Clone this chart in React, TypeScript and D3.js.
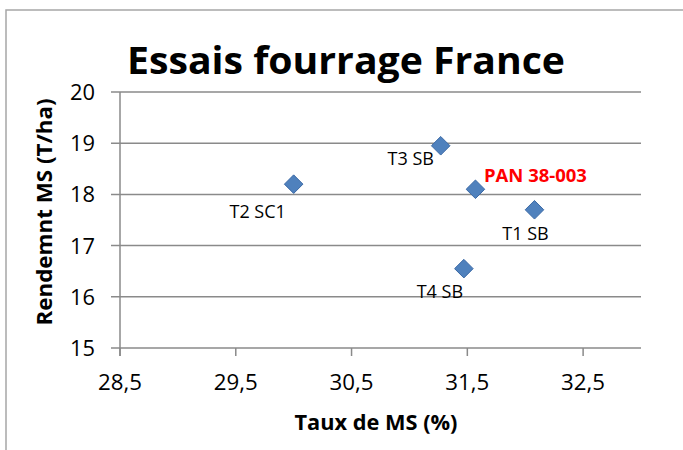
import React from "react";
import * as d3 from "d3";

const names = ["T2 SC1", "T3 SB", "PAN 38-003", "T1 SB", "T4 SB"];
const tauxMS = [30.0, 31.27, 31.57, 32.08, 31.47];
const rendement = [18.2, 18.95, 18.1, 17.7, 16.55];
const xTicks = [28.5, 29.5, 30.5, 31.5, 32.5];
const yTicks = [15, 16, 17, 18, 19, 20];
const highlight = ["PAN 38-003"];

// label placement relative to marker (layout, px)
const labelOffsets: [number, number][] = [
  [-36, 34],
  [-30, 19],
  [60, -7],
  [-9, 30],
  [-24, 29],
];

const W = 683;
const H = 450;
const font = "'Open Sans', sans-serif";

export default function App() {
  const x = d3.scaleLinear().domain([28.5, 33]).range([120, 641]);
  const y = d3.scaleLinear().domain([15, 20]).range([348, 92]);
  const grid = "#8a8a8a";
  const fmt = (v: number) => d3.format(".1f")(v).replace(".", ",");
  const diamond = d3.symbol().type(d3.symbolDiamond2).size(220);
  return (
    <svg
      width={W}
      height={H}
      style={{ position: "absolute", left: 0, top: 0, background: "#fff" }}
    >
      <rect x={6} y={10} width={W} height={H} fill="#fff" stroke="#a6a6a6" strokeWidth={1.5} />
      <text
        x={346}
        y={74}
        textAnchor="middle"
        fontFamily={font}
        fontWeight="bold"
        fontSize={38}
        textLength={438}
        lengthAdjust="spacingAndGlyphs"
      >
        Essais fourrage France
      </text>
      {yTicks.map((t) => (
        <g key={t}>
          <line x1={111} x2={641} y1={y(t)} y2={y(t)} stroke={grid} strokeWidth={1.5} />
          <text
            x={95}
            y={y(t)}
            dy="0.36em"
            textAnchor="end"
            fontFamily={font}
            fontSize={22}
            textLength={25}
            lengthAdjust="spacingAndGlyphs"
          >
            {t}
          </text>
        </g>
      ))}
      <line x1={x(28.5)} x2={x(28.5)} y1={92} y2={356} stroke={grid} strokeWidth={1.5} />
      {xTicks.map((t) => (
        <g key={t}>
          <line x1={x(t)} x2={x(t)} y1={348} y2={356} stroke={grid} strokeWidth={1.5} />
          <text
            x={x(t)}
            y={390}
            textAnchor="middle"
            fontFamily={font}
            fontSize={22}
            textLength={44}
            lengthAdjust="spacingAndGlyphs"
          >
            {fmt(t)}
          </text>
        </g>
      ))}
      <text
        x={376}
        y={430}
        textAnchor="middle"
        fontFamily={font}
        fontWeight="bold"
        fontSize={21}
        textLength={163}
        lengthAdjust="spacingAndGlyphs"
      >
        Taux de MS (%)
      </text>
      <text
        transform={`translate(52,212) rotate(-90)`}
        textAnchor="middle"
        fontFamily={font}
        fontWeight="bold"
        fontSize={21}
        textLength={227}
        lengthAdjust="spacingAndGlyphs"
      >
        Rendemnt MS (T/ha)
      </text>
      {names.map((n, i) => (
        <path
          key={n}
          d={diamond() as string}
          transform={`translate(${x(tauxMS[i])},${y(rendement[i])})`}
          fill="#4f81bd"
          stroke="#3c6aa6"
          strokeWidth={1}
        />
      ))}
      {names.map((n, i) => {
        const hl = highlight.includes(n);
        return (
          <text
            key={n}
            x={x(tauxMS[i]) + labelOffsets[i][0]}
            y={y(rendement[i]) + labelOffsets[i][1]}
            textAnchor="middle"
            fontFamily={font}
            fontSize={18}
            fontWeight={hl ? "bold" : "normal"}
            fill={hl ? "#ff0000" : "#000"}
            textLength={hl ? 103 : undefined}
            lengthAdjust="spacingAndGlyphs"
          >
            {n}
          </text>
        );
      })}
    </svg>
  );
}
